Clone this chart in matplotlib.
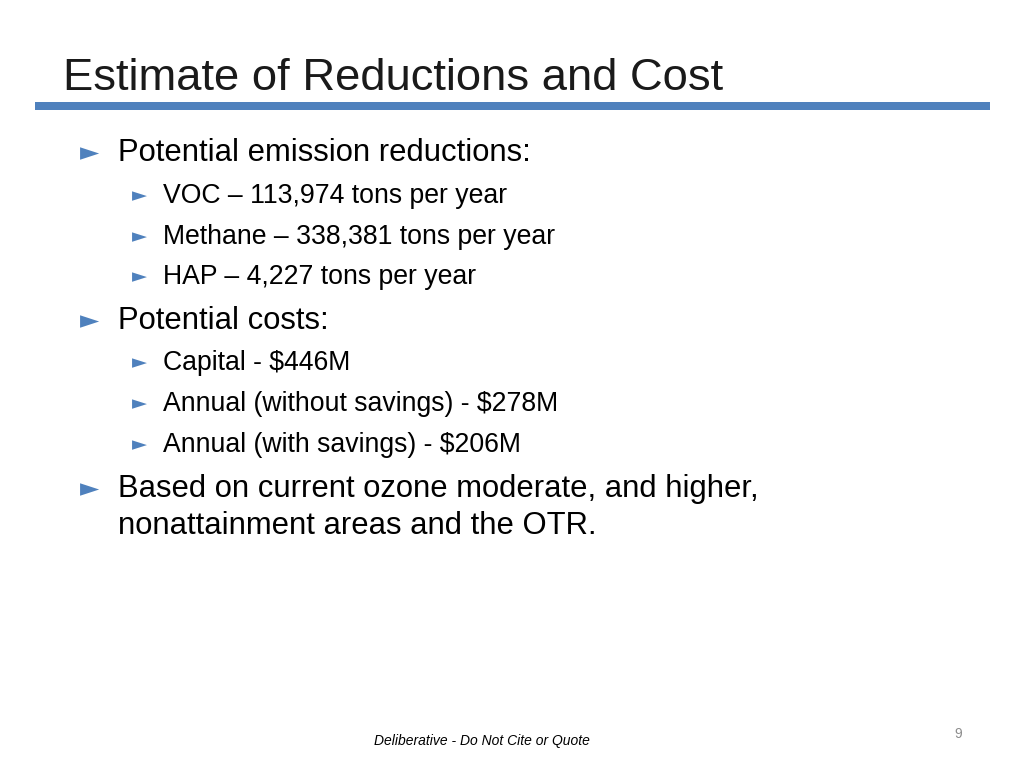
import matplotlib
matplotlib.use("Agg")
import matplotlib.pyplot as plt
from matplotlib.patches import Rectangle

title = "Estimate of Reductions and Cost"
levels = [1, 2, 2, 2, 1, 2, 2, 2, 1, 0]
lines = ["Potential emission reductions:",
         "VOC \u2013 113,974 tons per year",
         "Methane \u2013 338,381 tons per year",
         "HAP \u2013 4,227 tons per year",
         "Potential costs:",
         "Capital - $446M",
         "Annual (without savings) - $278M",
         "Annual (with savings) - $206M",
         "Based on current ozone moderate, and higher,",
         "nonattainment areas and the OTR."]
ypix = [150, 193, 234, 274, 318, 360, 401, 442, 486, 523]
footer = "Deliberative - Do Not Cite or Quote"
page = "9"

W, H = 1024, 768
fig = plt.figure(figsize=(W/100, H/100), dpi=100)
fig.patch.set_facecolor("white")
fx = lambda x: x / W
fy = lambda y: 1 - (y + 3) / H
font = "Liberation Sans"
blue = "#4F81BD"

fig.text(fx(63), fy(75), title, fontsize=32.7, family=font, va="center", ha="left", color="#1a1a1a")
fig.add_artist(Rectangle((fx(35), 1 - 110 / H), fx(990) - fx(35), 8 / H,
                         transform=fig.transFigure, color=blue, lw=0))

for lvl, txt, y in zip(levels, lines, ypix):
    if lvl == 1:
        fig.text(fx(80), fy(y), "\u25BA", fontsize=18, family="DejaVu Sans", color=blue, va="center")
        fig.text(fx(118), fy(y), txt, fontsize=22.3, family=font, va="center", color="black")
    elif lvl == 2:
        fig.text(fx(132), fy(y), "\u25BA", fontsize=14, family="DejaVu Sans", color=blue, va="center")
        fig.text(fx(163), fy(y), txt, fontsize=19.2, family=font, va="center", color="black")
    else:
        fig.text(fx(118), fy(y), txt, fontsize=22.3, family=font, va="center", color="black")

fig.text(fx(482), fy(738), footer, fontsize=10, family=font, style="italic", ha="center", va="center")
fig.text(fx(958), fy(731), page, fontsize=10, family=font, color="#8c8c8c", ha="center", va="center")

fig.savefig("out.png", dpi=100)
